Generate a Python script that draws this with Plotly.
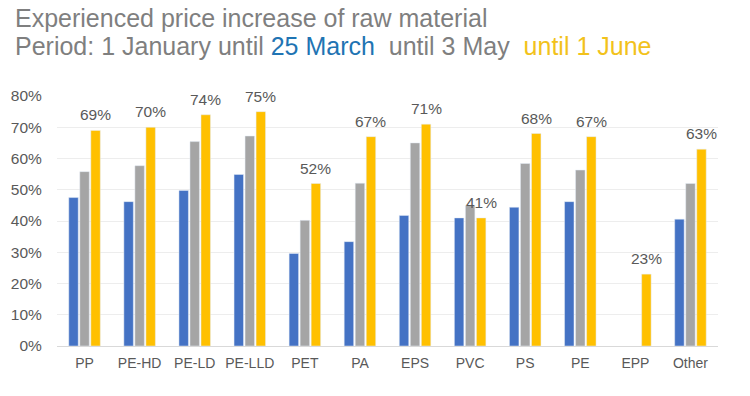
import plotly.graph_objects as go

categories = ["PP", "PE-HD", "PE-LD", "PE-LLD", "PET", "PA", "EPS", "PVC", "PS", "PE", "EPP", "Other"]
until_25_march = [47.5, 46.2, 49.8, 54.9, 29.6, 33.4, 41.8, 41.0, 44.4, 46.2, None, 40.6]
until_3_may = [55.8, 57.7, 65.4, 67.2, 40.2, 52.1, 65.0, 45.0, 58.4, 56.3, None, 52.0]
until_1_june = [69, 70, 74, 75, 52, 67, 71, 41, 68, 67, 23, 63]
yticks = [0, 10, 20, 30, 40, 50, 60, 70, 80]
ytick_labels = [f"{v}%" for v in yticks]

FONT = "Liberation Sans, Arial, sans-serif"
TXT = "#595959"

W, H = 750, 396
ML, MR, MT, MB = 57, 32, 96, 50
PW, PH = W - ML - MR, H - MT - MB
BARGAP = 0.4
N_SERIES = 3
slot_px = PW / len(categories) * (1 - BARGAP) / N_SERIES


def px_x(x):
    return (x - ML) / PW


def px_y(y):
    return (H - MB - y) / PH


fig = go.Figure()
fig.add_trace(go.Bar(x=categories, y=until_25_march, marker_color="#4472C4", name="25 March",
                     hoverinfo="y"))
fig.add_trace(go.Bar(x=categories, y=until_3_may, marker_color="#A5A5A5", name="3 May",
                     hoverinfo="y"))
fig.add_trace(go.Bar(x=categories, y=until_1_june, marker_color="#FFC000", name="1 June",
                     hoverinfo="y"))

annotations = [
    dict(text="Experienced price increase of raw material", x=px_x(13), y=px_y(18.5),
         xref="paper", yref="paper", xanchor="left", yanchor="middle", showarrow=False,
         font=dict(family=FONT, size=25, color="#7F7F7F")),
    dict(text="Period: 1 January until <span style='color:#1F74B3'>25 March</span>"
              "  until 3 May  <span style='color:#F2C21B'>until 1 June</span>",
         x=px_x(13), y=px_y(46),
         xref="paper", yref="paper", xanchor="left", yanchor="middle", showarrow=False,
         font=dict(family=FONT, size=25, color="#7F7F7F")),
]
for cat, val in zip(categories, until_1_june):
    annotations.append(dict(
        x=cat, y=val, xref="x", yref="y", text=f"{val}%", showarrow=False,
        xanchor="center", yanchor="bottom", xshift=slot_px, yshift=5,
        font=dict(family=FONT, size=15.5, color=TXT)))

fig.update_layout(
    width=W, height=H,
    margin=dict(l=ML, r=MR, t=MT, b=MB, pad=0),
    paper_bgcolor="white", plot_bgcolor="white",
    barmode="group", bargap=BARGAP, bargroupgap=0.14,
    showlegend=False,
    font=dict(family=FONT, color=TXT),
    xaxis=dict(range=[-0.5, len(categories) - 0.5], showgrid=False, showline=False,
               ticks="outside", ticklen=4, tickcolor="rgba(0,0,0,0)",
               tickfont=dict(size=14, color=TXT), fixedrange=True),
    yaxis=dict(range=[0, 80], tickvals=yticks, ticktext=ytick_labels, showgrid=True,
               gridcolor="#EDEDED", gridwidth=1, zeroline=True, zerolinecolor="#D9D9D9",
               zerolinewidth=1, ticks="outside", ticklen=11, tickcolor="rgba(0,0,0,0)",
               tickfont=dict(size=15.5, color=TXT), fixedrange=True),
    annotations=annotations,
)

fig.write_html("out.html", config={"displayModeBar": False},
               post_script="document.body.style.margin='0px';")
